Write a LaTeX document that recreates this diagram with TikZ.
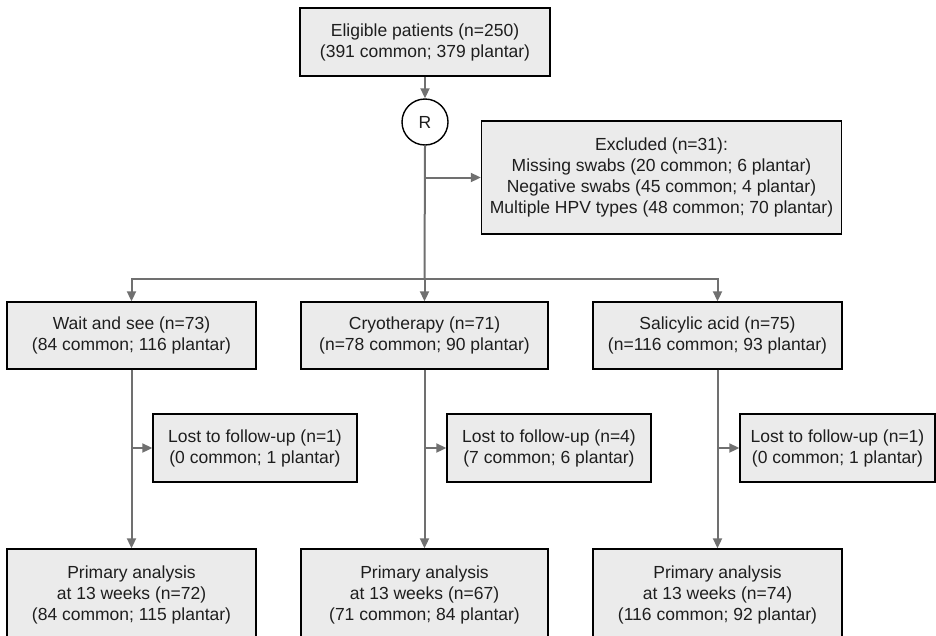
\documentclass[tikz,border=0pt]{standalone}
\usepackage{fontspec}
\setmainfont{Liberation Sans}
\usetikzlibrary{arrows.meta}
\definecolor{boxgray}{HTML}{EBEBEB}
\definecolor{linegray}{HTML}{707070}
\definecolor{textcol}{HTML}{1E1E1E}
\begin{document}
\begin{tikzpicture}[x=1pt,y=-1pt,
  box/.style={draw=black, fill=boxgray, line width=1.4pt, align=center, inner sep=0pt,
    font=\fontsize{17.5}{21}\selectfont, text=textcol},
  rnode/.style={draw=black, fill=white, circle, line width=1.4pt, minimum size=46pt, inner sep=0pt,
    font=\fontsize{17.5}{21}\selectfont, text=textcol},
  wire/.style={draw=linegray, line width=2pt},
  conn/.style={wire, -{Triangle[length=10pt,width=9pt]}}]
\useasboundingbox (0,0) rectangle (936,635);
\clip (0,0) rectangle (936,635);

\node[box, minimum width=250pt, minimum height=68pt] (elig) at (425,42)
  {Eligible patients (n=250)\\(391 common; 379 plantar)};
\node[rnode] (R) at (425,122) {R};
\node[box, minimum width=360pt, minimum height=113pt] (excl) at (661.5,177.5)
  {Excluded (n=31):\\Missing swabs (20 common; 6 plantar)\\Negative swabs (45 common; 4 plantar)\\Multiple HPV types (48 common; 70 plantar)};

\node[box, minimum width=249pt, minimum height=67pt] (wait) at (131.5,335.5)
  {Wait and see (n=73)\\(84 common; 116 plantar)};
\node[box, minimum width=247pt, minimum height=67pt] (cryo) at (424.5,335.5)
  {Cryotherapy (n=71)\\(n=78 common; 90 plantar)};
\node[box, minimum width=249pt, minimum height=67pt] (sal) at (717.5,335.5)
  {Salicylic acid (n=75)\\(n=116 common; 93 plantar)};

\node[box, minimum width=204pt, minimum height=68pt] (lost1) at (255,448)
  {Lost to follow-up (n=1)\\(0 common; 1 plantar)};
\node[box, minimum width=204pt, minimum height=68pt] (lost2) at (549,448)
  {Lost to follow-up (n=4)\\(7 common; 6 plantar)};
\node[box, minimum width=195pt, minimum height=68pt] (lost3) at (837.5,448)
  {Lost to follow-up (n=1)\\(0 common; 1 plantar)};

\node[box, minimum width=249pt, minimum height=92pt] (prim1) at (131.5,595)
  {Primary analysis\\at 13 weeks (n=72)\\(84 common; 115 plantar)};
\node[box, minimum width=247pt, minimum height=92pt] (prim2) at (424.5,595)
  {Primary analysis\\at 13 weeks (n=67)\\(71 common; 84 plantar)};
\node[box, minimum width=249pt, minimum height=92pt] (prim3) at (717.5,595)
  {Primary analysis\\at 13 weeks (n=74)\\(116 common; 92 plantar)};

\coordinate (branch) at (R.south |- excl.west);
\coordinate (bus) at (424.5,279);
\coordinate (busL) at (wait.north |- bus);
\coordinate (busR) at (sal.north |- bus);
\coordinate (b1) at (wait.south |- lost1.west);
\coordinate (b2) at (cryo.south |- lost2.west);
\coordinate (b3) at (sal.south |- lost3.west);

\draw[conn] (elig.south) -- (R.north);
\draw[wire] (R.south) -- (bus);
\draw[conn] (branch) -- (excl.west);
\draw[wire, line cap=rect] (busL) -- (busR);
\draw[conn] (busL) -- (wait.north);
\draw[conn] (bus) -- (cryo.north);
\draw[conn] (busR) -- (sal.north);

\draw[conn] (wait.south) -- (prim1.north);
\draw[conn] (cryo.south) -- (prim2.north);
\draw[conn] (sal.south) -- (prim3.north);
\draw[conn] (b1) -- (lost1.west);
\draw[conn] (b2) -- (lost2.west);
\draw[conn] (b3) -- (lost3.west);
\end{tikzpicture}
\end{document}
